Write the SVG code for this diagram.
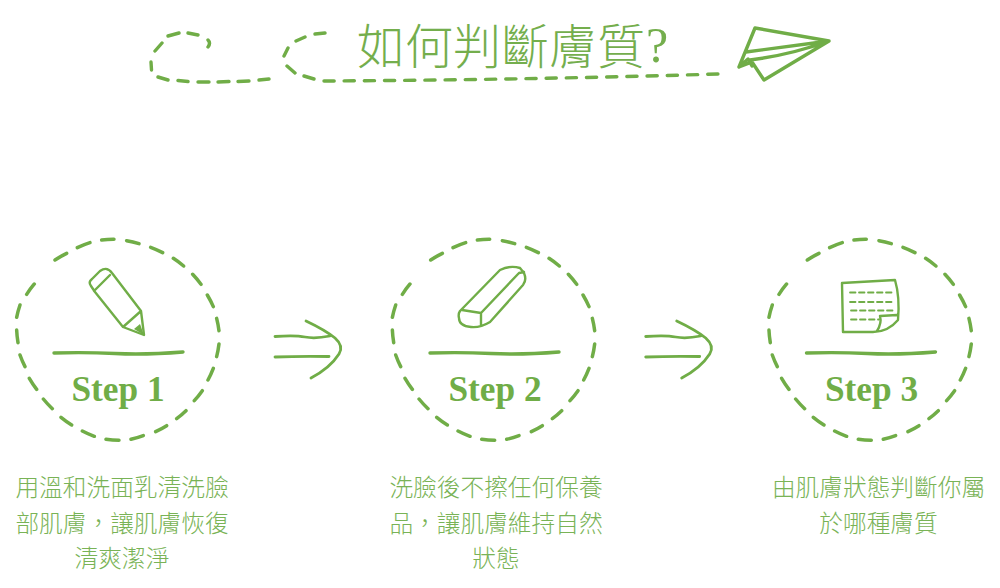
<svg xmlns="http://www.w3.org/2000/svg" width="1000" height="588" viewBox="0 0 1000 588" lang="zh-TW">
<style>
.s{fill:none;stroke:#70ad47;stroke-width:3.4;stroke-linecap:round;stroke-linejoin:round}
.t{stroke-width:2.4}
.step{font-family:"Liberation Serif",serif;font-weight:700;font-size:35.300px;fill:#70ad47;text-anchor:middle}
.body{font-family:"Noto Sans CJK TC",sans-serif;font-weight:300;font-size:23.700px;fill:#79b356;text-anchor:middle}
.title{font-family:"Noto Sans CJK TC",serif;font-weight:300;font-size:48px;fill:#74ae4d}
.q{font-family:"Liberation Serif",serif;font-size:50px}
</style>
<defs>
<g id="ring">
<path class="s" transform="scale(.3333)" style="stroke-width:10.500" d="M305 30A305 305 0 0 1 342 28M380 32A305 305 0 0 1 417 41M452 52A305 305 0 0 1 488 68M520 85A305 305 0 0 1 551 108M578 133A305 305 0 0 1 603 163M622 195A305 305 0 0 1 640 230M650 265A305 305 0 0 1 657 302M657 342A305 305 0 0 1 650 380M640 415A305 305 0 0 1 624 450M607 482A305 305 0 0 1 583 512M558 542A305 305 0 0 1 530 566M500 587A305 305 0 0 1 467 605M430 617A305 305 0 0 1 393 628M357 631A305 305 0 0 1 318 628M283 619A305 305 0 0 1 247 603M215 585A305 305 0 0 1 183 562M157 536A305 305 0 0 1 130 507M110 478A305 305 0 0 1 88 445M75 410A305 305 0 0 1 60 375M54 338A305 305 0 0 1 50 300M50 262A305 305 0 0 1 60 225M80 193A305 305 0 0 1 103 162M165 90A305 305 0 0 1 200 70M232 53A305 305 0 0 1 270 38"/>
</g>
<path id="rule" class="s" d="M54 353Q85 352 115 353.500T183 352"/>
<path id="arrow" class="s" style="stroke-width:2.800" d="M275 336.500Q295 335 305 337T330 336M275 357Q300 356 329 356.500M306 321Q325 330 335 338Q344 346 339 354Q330 368 311 378"/>
</defs>
<g id="title">
<text class="title" x="357" y="64">如何判斷膚質</text>
<text class="title q" x="646" y="62">?</text>
<path class="s" d="M151 62L151.500 70M158 77L168 80M178 80.500L188 81.500M198 82L209 82M218 82L229 81.500M238 81.500L249 81M259 80L269 79M155 51L162 43M168 36L179 33M188 33L198 35M208 40Q211 43 208 47M325 33L315 34M305 37L296 41M288 48L284 56M287 66L295 73M304 76L314 79"/>
<path class="s" stroke-dasharray="10.200 10" d="M324 81Q520 80 718 74"/>
<path class="s" d="M755 28L829 41L764 80L752 62L739 67ZM746 52L829 41M750 60Q790 55 829 41M739 67L748 59L752 66"/>
</g>
<g id="connectors">
<use href="#arrow"/>
<use href="#arrow" x="370.700"/>
</g>
<g id="step1">
<g transform="translate(0 230)"><use href="#ring"/></g>
<path class="s t" d="M92 279L100 271Q107 266 112 273L141 311L144 335L123 327L95 292L91 286Q88 282 92 279ZM94 291L110 275M123 327L141 311"/>
<path d="M134 329L140 324L144 335Z" fill="#70ad47"/>
<use href="#rule"/>
<text class="step" x="118" y="401">Step 1</text>
<text class="body" x="122" y="496">用溫和洗面乳清洗臉</text>
<text class="body" x="122" y="531.500">部肌膚，讓肌膚恢復</text>
<text class="body" x="122" y="567">清爽潔淨</text>
</g>
<g id="step2">
<g transform="translate(375.700 230)"><use href="#ring"/></g>
<path class="s t" d="M460 311L500 270Q510 265 520 268L524 273Q527 280 523 285L490 322Q480 328 471 327Q459 326 459 318Q458 314 460 311ZM462 310L481 313L519 273L524 272M481 313L481 325"/>
<use href="#rule" x="376"/>
<text class="step" x="495" y="401">Step 2</text>
<text class="body" x="496" y="496">洗臉後不擦任何保養</text>
<text class="body" x="496" y="531.500">品，讓肌膚維持自然</text>
<text class="body" x="496" y="567">狀態</text>
</g>
<g id="step3">
<g transform="translate(752.300 230)"><use href="#ring"/></g>
<path class="s t" d="M842 283L895 280Q900 297 898 320Q888 332 873 332L843 332ZM880 316L897 315M880 316Q882 323 877 331"/>
<path class="s" style="stroke-width:1.800" stroke-dasharray="5.500 3.500" d="M850 292.500H892M850 302H892M851 310.500H893M851 319.500H879"/>
<use href="#rule" x="752.500"/>
<text class="step" x="871.500" y="401">Step 3</text>
<text class="body" x="878.500" y="496">由肌膚狀態判斷你屬</text>
<text class="body" x="878.500" y="531.500">於哪種膚質</text>
</g>
</svg>
